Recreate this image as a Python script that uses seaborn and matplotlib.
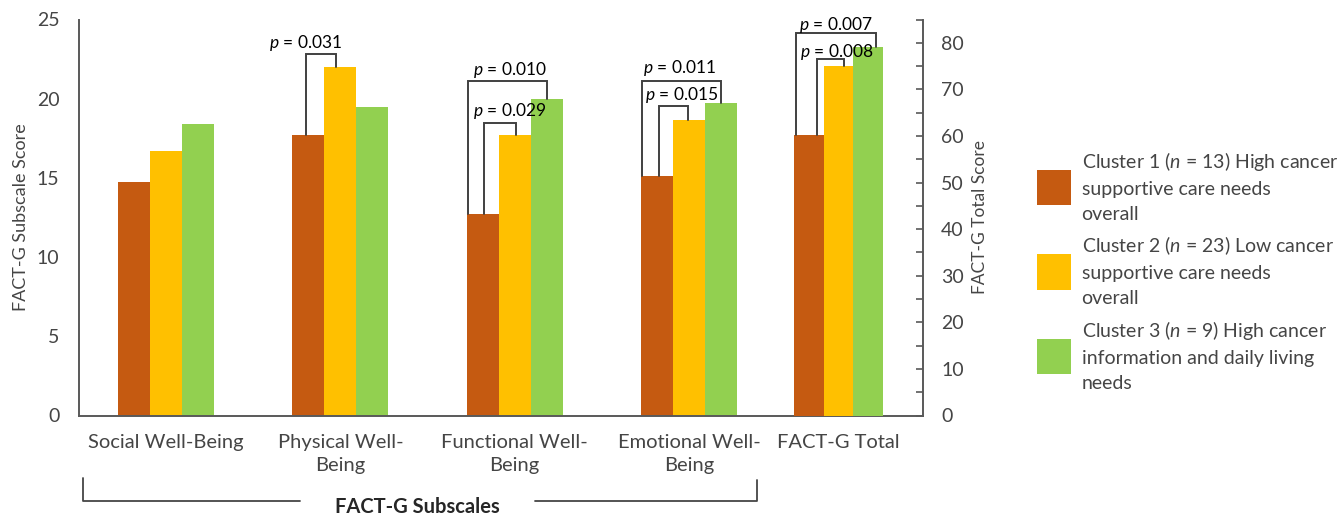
import matplotlib
matplotlib.use("Agg")
import matplotlib.pyplot as plt
from matplotlib.lines import Line2D
from matplotlib.patches import Patch
from matplotlib.ticker import MultipleLocator
import seaborn as sns
import pandas as pd

# ---- data ---------------------------------------------------------------
subscales = ["Social Well-Being", "Physical Well-\nBeing",
             "Functional Well-\nBeing", "Emotional Well-\nBeing"]
total_category = "FACT-G Total"
clusters = ["Cluster 1", "Cluster 2", "Cluster 3"]
cluster_labels = [
    "Cluster 1 ($n$ = 13) High cancer\nsupportive care needs\noverall",
    "Cluster 2 ($n$ = 23) Low cancer\nsupportive care needs\noverall",
    "Cluster 3 ($n$ = 9) High cancer\ninformation and daily living\nneeds",
]
cluster1_subscale = [14.75, 17.7, 12.75, 15.1]
cluster2_subscale = [16.7, 22.0, 17.7, 18.65]
cluster3_subscale = [18.4, 19.5, 20.0, 19.7]
total_score = [60.3, 75.1, 79.0]

# significance comparisons (category index, cluster a, cluster b, bracket top, p)
sig_category = [1, 2, 2, 3, 3, 4, 4]
sig_a = [0, 0, 0, 0, 0, 0, 0]
sig_b = [1, 2, 1, 2, 1, 2, 1]
sig_top = [22.8, 21.1, 18.45, 21.1, 19.55, 82.0, 76.5]
sig_p = ["0.031", "0.010", "0.029", "0.011", "0.015", "0.007", "0.008"]

colors = ["#C55A11", "#FFC000", "#92D050"]

# ---- styling ------------------------------------------------------------
sns.set_theme(style="white")
plt.rcParams["font.family"] = ["Lato", "DejaVu Sans"]
plt.rcParams["mathtext.fontset"] = "custom"
plt.rcParams["mathtext.it"] = "Lato:italic"
plt.rcParams["mathtext.rm"] = "Lato"
axis_grey = "#595959"
text_grey = "#454545"

categories = subscales + [total_category]
sub_df = pd.DataFrame({
    "category": subscales * 3,
    "cluster": sum([[c] * len(subscales) for c in clusters], []),
    "score": cluster1_subscale + cluster2_subscale + cluster3_subscale,
})
tot_df = pd.DataFrame({
    "category": [total_category] * 3,
    "cluster": clusters,
    "score": total_score,
})

W, H = 1344, 517
fig = plt.figure(figsize=(W / 100, H / 100), dpi=100)
rect = [79 / W, 1 - 415.5 / H, (923 - 79) / W, 396 / H]
ax = fig.add_axes(rect)
# the total score lives on its own overlaid axes with a right-hand scale
ax2 = fig.add_axes(rect)
ax2.set_facecolor("none")

sns.barplot(data=sub_df, x="category", y="score", hue="cluster", order=subscales,
            hue_order=clusters, palette=colors, width=0.551, linewidth=0,
            saturation=1, legend=False, ax=ax)
sns.barplot(data=tot_df, x="category", y="score", hue="cluster", order=categories,
            hue_order=clusters, palette=colors, width=0.524, linewidth=0,
            saturation=1, legend=False, ax=ax2)

ax.set_xlim(-0.5, 4.343)
ax2.set_xlim(-0.5, 4.5)
ax.set_ylim(0, 25)
ax2.set_ylim(0, 85)

ax.yaxis.set_major_locator(MultipleLocator(5))
ax.yaxis.set_minor_locator(MultipleLocator(2.5))
ax2.yaxis.tick_right()
ax2.yaxis.set_label_position("right")
ax2.yaxis.set_major_locator(MultipleLocator(10))
ax2.yaxis.set_minor_locator(MultipleLocator(5))

for a in (ax, ax2):
    for s in a.spines.values():
        s.set_visible(False)
        s.set_color(axis_grey)
        s.set_linewidth(1.4)
    a.set_xlabel("")
    a.grid(False)
ax.spines["left"].set_visible(True)
ax.spines["bottom"].set_visible(True)
ax2.spines["right"].set_visible(True)

ax.tick_params(axis="y", which="both", direction="in", length=5, width=1.2,
               color=axis_grey, pad=14, labelsize=14, labelcolor=text_grey)
ax2.tick_params(axis="y", which="both", direction="in", length=5, width=1.2,
                color=axis_grey, pad=13, labelsize=14, labelcolor=text_grey)
for a in (ax, ax2):
    a.tick_params(axis="x", length=0, pad=13, labelsize=14.5, labelcolor=text_grey)
ax.set_xticks(range(len(subscales)))
ax.set_xticklabels(subscales, linespacing=1.45)
ax2.set_xticks([len(subscales)])
ax2.set_xticklabels([total_category])

ax.set_ylabel("FACT-G Subscale Score", fontsize=13, color=text_grey, labelpad=6)
ax2.set_ylabel("FACT-G Total Score", fontsize=12.5, color=text_grey, labelpad=6)

# ---- significance brackets --------------------------------------------
def bar_lookup(axis):
    table = {}
    for k, cont in enumerate(axis.containers):
        for bar in cont:
            if bar.get_height() != bar.get_height():
                continue
            cx = bar.get_x() + bar.get_width() / 2
            table[(int(round(cx)), k)] = bar
    return table

bars_sub = bar_lookup(ax)
bars_tot = bar_lookup(ax2)

leg_a_frac = [0.42, 0.05, 0.53, 0.03, 0.55, 0.07, 0.76]
leg_b_frac = [0.36, 0.5, 0.53, 0.5, 0.48, 0.77, 0.67]
label_frac = [0.0, 0.53, 0.81, 0.48, 0.77, 0.5, 0.74]
label_gap = [11.5, 11.5, 12, 13.5, 11, 8, 7]
bracket_color = "#404040"

for i in range(len(sig_category)):
    cat = sig_category[i]
    axis, table = (ax2, bars_tot) if cat == len(subscales) else (ax, bars_sub)
    ba = table[(cat, sig_a[i])]
    bb = table[(cat, sig_b[i])]
    xa = ba.get_x() + leg_a_frac[i] * ba.get_width()
    xb = bb.get_x() + leg_b_frac[i] * bb.get_width()
    top = sig_top[i]
    axis.plot([xa, xa, xb, xb], [ba.get_height(), top, top, bb.get_height()],
              color=bracket_color, lw=1.4, solid_joinstyle="miter", zorder=4,
              clip_on=False)
    tx = xa + label_frac[i] * (xb - xa)
    axis.annotate(f"$p$ = {sig_p[i]}", xy=(tx, top), xytext=(0, label_gap[i] * 0.72),
                  textcoords="offset points", ha="center", va="center",
                  fontsize=12.5, color="black", zorder=5, annotation_clip=False)

# ---- subscale grouping bracket beneath the axis -----------------------
def fx(px):
    return px / W

def fy(py):
    return 1 - py / H

fig.add_artist(Line2D([fx(83), fx(83), fx(300)], [fy(478), fy(501), fy(501)],
                      color=text_grey, lw=1.3))
fig.add_artist(Line2D([fx(535), fx(757), fx(757)], [fy(501), fy(501), fy(480)],
                      color=text_grey, lw=1.3))
fig.text(fx(417), fy(507), "FACT-G Subscales", ha="center", va="center",
         fontsize=14.5, fontweight="bold", color="#262626")

# ---- legend ------------------------------------------------------------
handles = [Patch(facecolor=c, edgecolor="none") for c in colors]
leg = fig.legend(handles, cluster_labels, loc="center left",
                 bbox_to_anchor=(1019 / W, fy(271)), frameon=False,
                 fontsize=14, handlelength=1.75, handleheight=2.42,
                 handletextpad=0.57, labelspacing=0.6, labelcolor=text_grey)
for t in leg.get_texts():
    t.set_linespacing(1.58)

fig.savefig("out.png", dpi=100)
